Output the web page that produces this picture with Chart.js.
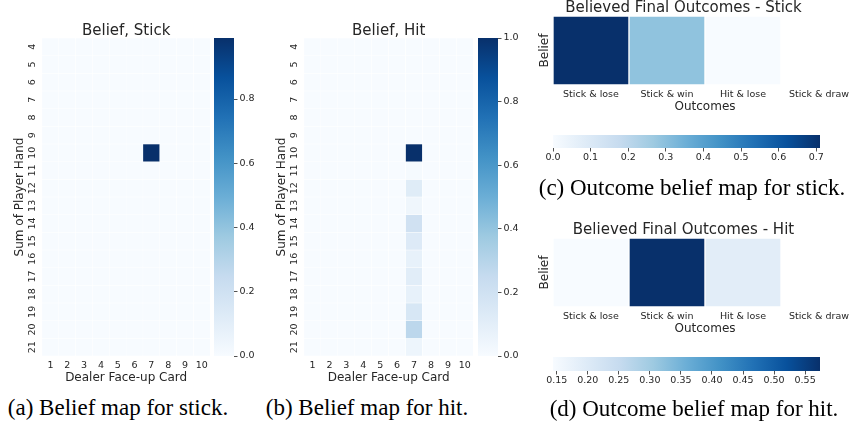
<!DOCTYPE html>
<html lang="en">
<head>
<meta charset="UTF-8">
<title>Belief maps</title>
<script src="https://cdn.jsdelivr.net/npm/chart.js"></script>
<style>
  html, body { margin: 0; padding: 0; background: #fff; overflow: hidden; }
  #page { position: relative; width: 852px; height: 433px; overflow: hidden; }
  #page canvas { position: absolute; }
  .caption { position: absolute; width: 360px; text-align: center; white-space: nowrap;
             font-family: 'Liberation Serif', 'Times New Roman', serif; font-size: 23px; line-height: 23px; color: #000; }
</style>
</head>
<body>
<div id="page">
  <canvas id="mapStick" width="212" height="392" style="left:0px;top:0px"></canvas>
  <canvas id="barStick" width="60" height="392" style="left:204px;top:0px"></canvas>
  <canvas id="mapHit" width="213" height="392" style="left:262px;top:0px"></canvas>
  <canvas id="barHit" width="60" height="392" style="left:468px;top:0px"></canvas>
  <canvas id="outStick" width="352" height="128" style="left:510px;top:-10px"></canvas>
  <canvas id="barOutStick" width="320" height="45" style="left:510px;top:120px"></canvas>
  <canvas id="outHit" width="352" height="140" style="left:510px;top:200px"></canvas>
  <canvas id="barOutHit" width="320" height="45" style="left:510px;top:342px"></canvas>

  <div class="caption" style="left:-62px;top:396px">(a) Belief map for stick.</div>
  <div class="caption" style="left:187px;top:396px">(b) Belief map for hit.</div>
  <div class="caption" style="left:512px;top:176px">(c) Outcome belief map for stick.</div>
  <div class="caption" style="left:514px;top:397px">(d) Outcome belief map for hit.</div>
</div>

<script>
// axes
const dealerCards = [1, 2, 3, 4, 5, 6, 7, 8, 9, 10];
const playerSums = [4, 5, 6, 7, 8, 9, 10, 11, 12, 13, 14, 15, 16, 17, 18, 19, 20, 21];
const outcomeLabels = ['Stick & lose', 'Stick & win', 'Hit & lose', 'Stick & draw'];

// belief maps, one row per player sum (4..21), one column per dealer card (1..10)
const beliefStick = [
  [0, 0, 0, 0, 0, 0, 0, 0, 0, 0],
  [0, 0, 0, 0, 0, 0, 0, 0, 0, 0],
  [0, 0, 0, 0, 0, 0, 0, 0, 0, 0],
  [0, 0, 0, 0, 0, 0, 0, 0, 0, 0],
  [0, 0, 0, 0, 0, 0, 0, 0, 0, 0],
  [0, 0, 0, 0, 0, 0, 0, 0, 0, 0],
  [0, 0, 0, 0, 0, 0, 0.99, 0, 0, 0],
  [0, 0, 0, 0, 0, 0, 0, 0, 0, 0],
  [0, 0, 0, 0, 0, 0, 0, 0, 0, 0],
  [0, 0, 0, 0, 0, 0, 0, 0, 0, 0],
  [0, 0, 0, 0, 0, 0, 0, 0, 0, 0],
  [0, 0, 0, 0, 0, 0, 0, 0, 0, 0],
  [0, 0, 0, 0, 0, 0, 0, 0, 0, 0],
  [0, 0, 0, 0, 0, 0, 0, 0, 0, 0],
  [0, 0, 0, 0, 0, 0, 0, 0, 0, 0],
  [0, 0, 0, 0, 0, 0, 0, 0, 0, 0],
  [0, 0, 0, 0, 0, 0, 0, 0, 0, 0],
  [0, 0, 0, 0, 0, 0, 0, 0, 0, 0]
];
const beliefHit = [
  [0, 0, 0, 0, 0, 0, 0, 0, 0, 0],
  [0, 0, 0, 0, 0, 0, 0, 0, 0, 0],
  [0, 0, 0, 0, 0, 0, 0, 0, 0, 0],
  [0, 0, 0, 0, 0, 0, 0, 0, 0, 0],
  [0, 0, 0, 0, 0, 0, 0, 0, 0, 0],
  [0, 0, 0, 0, 0, 0, 0, 0, 0, 0],
  [0, 0, 0, 0, 0, 0, 1.0, 0, 0, 0],
  [0, 0, 0, 0, 0, 0, 0.01, 0, 0, 0],
  [0, 0, 0, 0, 0, 0, 0.12, 0, 0, 0],
  [0, 0, 0, 0, 0, 0, 0.04, 0, 0, 0],
  [0, 0, 0, 0, 0, 0, 0.20, 0, 0, 0],
  [0, 0, 0, 0, 0, 0, 0.13, 0, 0, 0],
  [0, 0, 0, 0, 0, 0, 0.08, 0, 0, 0],
  [0, 0, 0, 0, 0, 0, 0.11, 0, 0, 0],
  [0, 0, 0, 0, 0, 0, 0.08, 0, 0, 0],
  [0, 0, 0, 0, 0, 0, 0.16, 0, 0, 0],
  [0, 0, 0, 0, 0, 0, 0.28, 0, 0, 0],
  [0, 0, 0, 0, 0, 0, 0.05, 0, 0, 0]
];

// believed final outcomes (Stick & draw is empty)
const outcomeStick = [0.71, 0.29, 0.0, null];
const outcomeHit = [0.144, 0.574, 0.19, null];

// colorbar ticks
const ticksStick = [0, 0.2, 0.4, 0.6, 0.8];
const ticksHit = [0, 0.2, 0.4, 0.6, 0.8, 1.0];
const ticksOutStick = [0, 0.1, 0.2, 0.3, 0.4, 0.5, 0.6, 0.7];
const ticksOutHit = [0.15, 0.20, 0.25, 0.30, 0.35, 0.40, 0.45, 0.50, 0.55];

Chart.defaults.font.family = "'DejaVu Sans', sans-serif";
Chart.defaults.color = '#262626';

// matplotlib "Blues"
const BLUES = [[247,251,255],[222,235,247],[198,219,239],[158,202,225],[107,174,214],[66,146,198],[33,113,181],[8,81,156],[8,48,107]];
function blues(t) {
  t = Math.max(0, Math.min(1, t)) * 8;
  const i = Math.min(7, Math.floor(t));
  const f = t - i;
  const a = BLUES[i], b = BLUES[i + 1];
  return 'rgb(' + a.map((c, k) => Math.round(c + (b[k] - c) * f)).join(',') + ')';
}

const noPlugins = { legend: { display: false }, tooltip: { enabled: false } };

function beliefMap(id, title, grid) {
  const vals = grid.flat();
  const vmin = Math.min(...vals), vmax = Math.max(...vals);
  const datasets = playerSums.map((sum, r) => ({
    data: dealerCards.map(() => [sum - 0.5, sum + 0.5]),
    backgroundColor: grid[r].map(v => blues((v - vmin) / (vmax - vmin))),
    borderColor: '#ffffff',
    borderWidth: 0.5,
    borderSkipped: false,
    grouped: false,
    barPercentage: 1,
    categoryPercentage: 1
  }));
  new Chart(document.getElementById(id), {
    type: 'bar',
    data: { labels: dealerCards, datasets: datasets },
    options: {
      responsive: false, animation: false, events: [],
      plugins: {
        ...noPlugins,
        title: { display: true, text: title, fullSize: false, font: { size: 15, weight: 'normal' },
                 padding: { top: 22.5, bottom: -2.5 } }
      },
      scales: {
        x: {
          grid: { display: false, drawTicks: false }, border: { display: false },
          ticks: { autoSkip: false, maxRotation: 0, padding: 4, font: { size: 9.5 } },
          title: { display: true, text: 'Dealer Face-up Card', font: { size: 12 }, padding: { top: 0, bottom: 7 } },
          afterFit: s => { s.height = 36; }
        },
        y: {
          type: 'linear', reverse: true, min: 3.5, max: 21.5,
          afterBuildTicks: s => { s.ticks = playerSums.map(v => ({ value: v })); },
          grid: { display: false, drawTicks: false }, border: { display: false },
          ticks: { autoSkip: false, minRotation: 90, maxRotation: 90, crossAlign: 'center', padding: 3.5, font: { size: 9.5 } },
          title: { display: true, text: 'Sum of Player Hand', font: { size: 12 }, padding: { top: 12.8, bottom: 0 } },
          afterFit: s => { s.width = 42; }
        }
      }
    }
  });
}

function outcomeMap(id, title, values, titleTop) {
  const shown = values.filter(v => v !== null);
  const vmin = Math.min(...shown), vmax = Math.max(...shown);
  new Chart(document.getElementById(id), {
    type: 'bar',
    data: {
      labels: outcomeLabels,
      datasets: [{
        data: values.map(v => v === null ? null : [0, 1]),
        backgroundColor: values.map(v => v === null ? 'rgba(0,0,0,0)' : blues((v - vmin) / (vmax - vmin))),
        borderColor: '#ffffff',
        borderWidth: 1,
        borderSkipped: false,
        barPercentage: 1,
        categoryPercentage: 1
      }]
    },
    options: {
      responsive: false, animation: false, events: [],
      layout: { padding: { right: 5 } },
      plugins: {
        ...noPlugins,
        title: { display: true, text: title, font: { size: 15, weight: 'normal' },
                 padding: { top: titleTop, bottom: -0.8 } }
      },
      scales: {
        x: {
          grid: { display: false, drawTicks: false }, border: { display: false },
          ticks: { autoSkip: false, maxRotation: 0, padding: 3.8, font: { size: 9.5 } },
          title: { display: true, text: 'Outcomes', font: { size: 12 }, padding: { top: 0, bottom: 4.3 } },
          afterFit: s => { s.height = 33; }
        },
        y: {
          min: 0, max: 1,
          grid: { display: false, drawTicks: false }, border: { display: false },
          ticks: { display: false },
          title: { display: true, text: 'Belief', font: { size: 12 }, padding: { top: 27.8, bottom: 0 } },
          afterFit: s => { s.width = 43; }
        }
      }
    }
  });
}

function colorBar(id, vmin, vmax, ticks, decimals, horizontal, pad, axisSize) {
  const valueAxis = horizontal ? 'x' : 'y';
  const indexAxis = horizontal ? 'y' : 'x';
  const scales = {};
  scales[indexAxis] = { display: false };
  scales[valueAxis] = {
    type: 'linear', min: vmin, max: vmax,
    position: horizontal ? 'bottom' : 'right',
    afterBuildTicks: s => { s.ticks = ticks.map(v => ({ value: v })); },
    grid: { drawOnChartArea: false, drawTicks: true, tickLength: 3.5, color: '#262626', lineWidth: 0.8 },
    border: { display: false },
    ticks: { autoSkip: false, maxRotation: 0, padding: horizontal ? 0 : 2, font: { size: 9.5 },
             callback: v => v.toFixed(decimals) },
    afterFit: s => { if (horizontal) s.height = axisSize; else s.width = axisSize; }
  };
  new Chart(document.getElementById(id), {
    type: 'bar',
    data: {
      labels: [''],
      datasets: [{
        data: [[vmin, vmax]],
        backgroundColor: ctx => {
          const area = ctx.chart.chartArea;
          if (!area) return blues(0);
          const g = horizontal
            ? ctx.chart.ctx.createLinearGradient(area.left, 0, area.right, 0)
            : ctx.chart.ctx.createLinearGradient(0, area.bottom, 0, area.top);
          BLUES.forEach((c, i) => g.addColorStop(i / 8, 'rgb(' + c.join(',') + ')'));
          return g;
        },
        borderWidth: 0,
        barPercentage: 1,
        categoryPercentage: 1
      }]
    },
    options: {
      indexAxis: indexAxis,
      responsive: false, animation: false, events: [],
      layout: { padding: pad },
      plugins: noPlugins,
      scales: scales
    }
  });
}

beliefMap('mapStick', 'Belief, Stick', beliefStick);
beliefMap('mapHit', 'Belief, Hit', beliefHit);

const flatStick = beliefStick.flat(), flatHit = beliefHit.flat();
colorBar('barStick', Math.min(...flatStick), Math.max(...flatStick), ticksStick, 1, false,
         { left: 10, top: 38, bottom: 36 }, 30);
colorBar('barHit', Math.min(...flatHit), Math.max(...flatHit), ticksHit, 1, false,
         { left: 10, top: 38, bottom: 36 }, 30);

outcomeMap('outStick', 'Believed Final Outcomes - Stick', outcomeStick, 8.8);
outcomeMap('outHit', 'Believed Final Outcomes - Hit', outcomeHit, 20.8);

const shownStick = outcomeStick.filter(v => v !== null), shownHit = outcomeHit.filter(v => v !== null);
colorBar('barOutStick', Math.min(...shownStick), Math.max(...shownStick), ticksOutStick, 1, true,
         { left: 43, right: 10, top: 15 }, 17);
colorBar('barOutHit', Math.min(...shownHit), Math.max(...shownHit), ticksOutHit, 2, true,
         { left: 43, right: 10, top: 15 }, 16);
</script>
</body>
</html>
